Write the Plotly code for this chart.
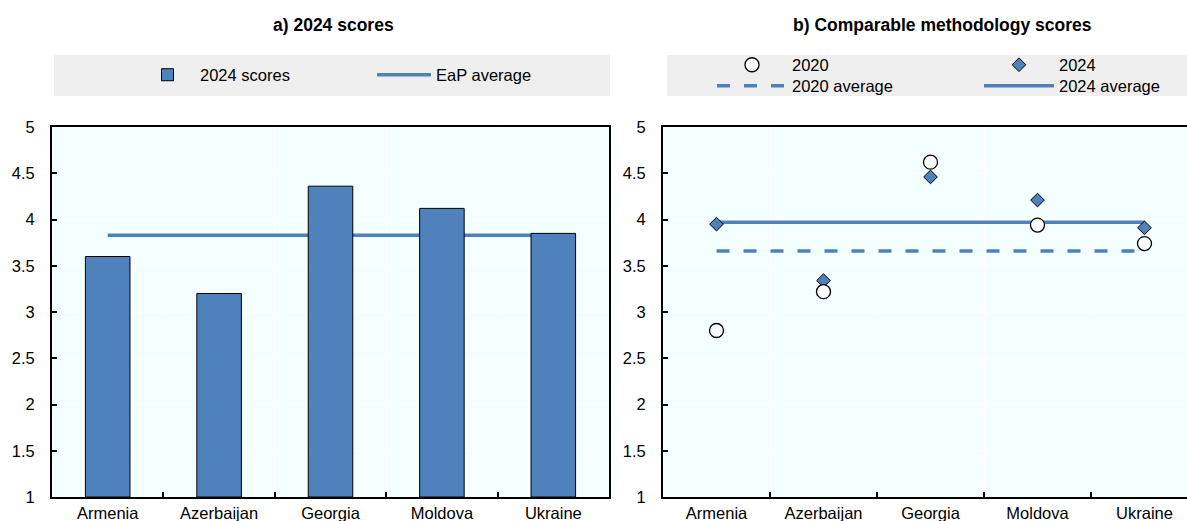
import plotly.graph_objects as go

# ---------------- data ----------------
countries = ["Armenia", "Azerbaijan", "Georgia", "Moldova", "Ukraine"]
scores_2024 = [3.60, 3.20, 4.36, 4.12, 3.85]          # panel a bars
eap_average = 3.83                                     # panel a line
comp_2020 = [2.80, 3.22, 4.62, 3.94, 3.74]             # panel b circles
comp_2024 = [3.95, 3.34, 4.46, 4.21, 3.91]             # panel b diamonds
avg_2020 = 3.66
avg_2024 = 3.97
y_ticks = [1, 1.5, 2, 2.5, 3, 3.5, 4, 4.5, 5]
titles = ["a) 2024 scores", "b) Comparable methodology scores"]

# ---------------- style ----------------
W, H = 1187, 521
FONT = "Liberation Sans, Arial, sans-serif"
FS = 16.5
BLUE = "#4F81BD"
PLOT_BG = "#F4FFFF"
LEG_BG = "#EFEFEF"

def px_x(p):
    return p / W

def px_y(p):
    return 1 - p / H

fig = go.Figure()

# Panel a: average line on base axes, bars on overlay axes (so bars sit above the line)
fig.add_trace(go.Scatter(
    x=countries, y=[eap_average] * len(countries), mode="lines",
    line=dict(color=BLUE, width=3.5), name="EaP average",
    xaxis="x", yaxis="y", legend="legend2", hoverinfo="skip"))
fig.add_trace(go.Bar(
    x=countries, y=[v - 1 for v in scores_2024], base=1, name="2024 scores",
    marker=dict(color=BLUE, line=dict(color="black", width=1)),
    width=0.4, xaxis="x3", yaxis="y3", legend="legend"))

# Panel b
fig.add_trace(go.Scatter(
    x=countries, y=[avg_2020] * len(countries), mode="lines",
    line=dict(color=BLUE, width=3.5, dash="13px,14px"), name="2020 average",
    xaxis="x2", yaxis="y2", legend="legend4"))
fig.add_trace(go.Scatter(
    x=countries, y=[avg_2024] * len(countries), mode="lines",
    line=dict(color=BLUE, width=3.5), name="2024 average",
    xaxis="x2", yaxis="y2", legend="legend6"))
fig.add_trace(go.Scatter(
    x=countries, y=comp_2024, mode="markers", name="2024",
    marker=dict(symbol="diamond", size=10.5, color=BLUE, line=dict(color="black", width=1)),
    xaxis="x2", yaxis="y2", legend="legend5"))
fig.add_trace(go.Scatter(
    x=countries, y=comp_2020, mode="markers", name="2020",
    marker=dict(symbol="circle", size=14, color="white", line=dict(color="black", width=1.3)),
    xaxis="x2", yaxis="y2", legend="legend3"))

dom_y = [px_y(497), px_y(127)]
dom_a = [px_x(52), px_x(609)]
dom_b = [px_x(663), 1]
range_b = [-0.5, -0.5 + (W - 663) / 107.0]

xcommon = dict(type="category", categoryorder="array", categoryarray=countries,
               showline=True, linecolor="black", linewidth=2,
               ticks="inside", ticklen=5, tickcolor="black", tickwidth=1.5,
               tickson="boundaries", showgrid=True, gridcolor="white", gridwidth=1,
               tickfont=dict(family=FONT, size=FS, color="black"), zeroline=False,
               fixedrange=True)
ycommon = dict(range=[1, 5], tickvals=y_ticks, showline=True, linecolor="black", linewidth=2,
               ticks="inside", ticklen=5, tickcolor="black", tickwidth=1.5,
               showgrid=True, gridcolor="white", gridwidth=1, zeroline=False,
               ticklabelstandoff=12,
               tickfont=dict(family=FONT, size=FS, color="black"), fixedrange=True)

legend_common = dict(bgcolor="rgba(0,0,0,0)", borderwidth=0, orientation="v",
                     font=dict(family=FONT, size=FS, color="black"),
                     xanchor="left", yanchor="middle", itemclick=False, itemdoubleclick=False)

fig.update_layout(
    width=W, height=H, autosize=False,
    margin=dict(l=0, r=0, t=0, b=0, pad=0, autoexpand=False),
    paper_bgcolor="white", plot_bgcolor=PLOT_BG,
    font=dict(family=FONT, size=FS, color="black"),
    xaxis=dict(domain=dom_a, range=[-0.5, 4.5], mirror=True, anchor="y", **xcommon),
    yaxis=dict(domain=dom_y, mirror=True, anchor="x", **ycommon),
    xaxis3=dict(domain=dom_a, range=[-0.5, 4.5], overlaying="x", anchor="y3", type="category",
                categoryorder="array", categoryarray=countries, visible=False, fixedrange=True),
    yaxis3=dict(domain=dom_y, range=[1, 5], overlaying="y", anchor="x3", visible=False,
                fixedrange=True),
    xaxis2=dict(domain=dom_b, range=range_b, mirror=True, anchor="y2", **xcommon),
    yaxis2=dict(domain=dom_y, mirror=False, anchor="x2", **ycommon),
    barmode="overlay",
    legend=dict(x=px_x(135), y=px_y(75), itemwidth=55, **legend_common),
    legend2=dict(x=px_x(372), y=px_y(75), itemwidth=54, **legend_common),
    legend3=dict(x=px_x(712), y=px_y(65), itemwidth=70, **legend_common),
    legend4=dict(x=px_x(712), y=px_y(86), itemwidth=70, **legend_common),
    legend5=dict(x=px_x(979), y=px_y(65), itemwidth=70, **legend_common),
    legend6=dict(x=px_x(979), y=px_y(86), itemwidth=70, **legend_common),
    shapes=[
        dict(type="rect", xref="paper", yref="paper", x0=px_x(54), x1=px_x(610),
             y0=px_y(96), y1=px_y(55), fillcolor=LEG_BG, line=dict(width=0), layer="below"),
        dict(type="rect", xref="paper", yref="paper", x0=px_x(667), x1=1,
             y0=px_y(96), y1=px_y(55), fillcolor=LEG_BG, line=dict(width=0), layer="below"),
    ],
    annotations=[
        dict(text="<b>" + titles[0] + "</b>", xref="paper", yref="paper",
             x=px_x(333), y=px_y(25), xanchor="center", yanchor="middle", showarrow=False,
             font=dict(family=FONT, size=17.5, color="black")),
        dict(text="<b>" + titles[1] + "</b>", xref="paper", yref="paper",
             x=px_x(942), y=px_y(25), xanchor="center", yanchor="middle", showarrow=False,
             font=dict(family=FONT, size=17.5, color="black")),
    ],
    showlegend=True,
)

fig.write_html("out.html",
               config={"displayModeBar": False},
               post_script="document.body.style.margin='0px';document.body.style.padding='0px';")
